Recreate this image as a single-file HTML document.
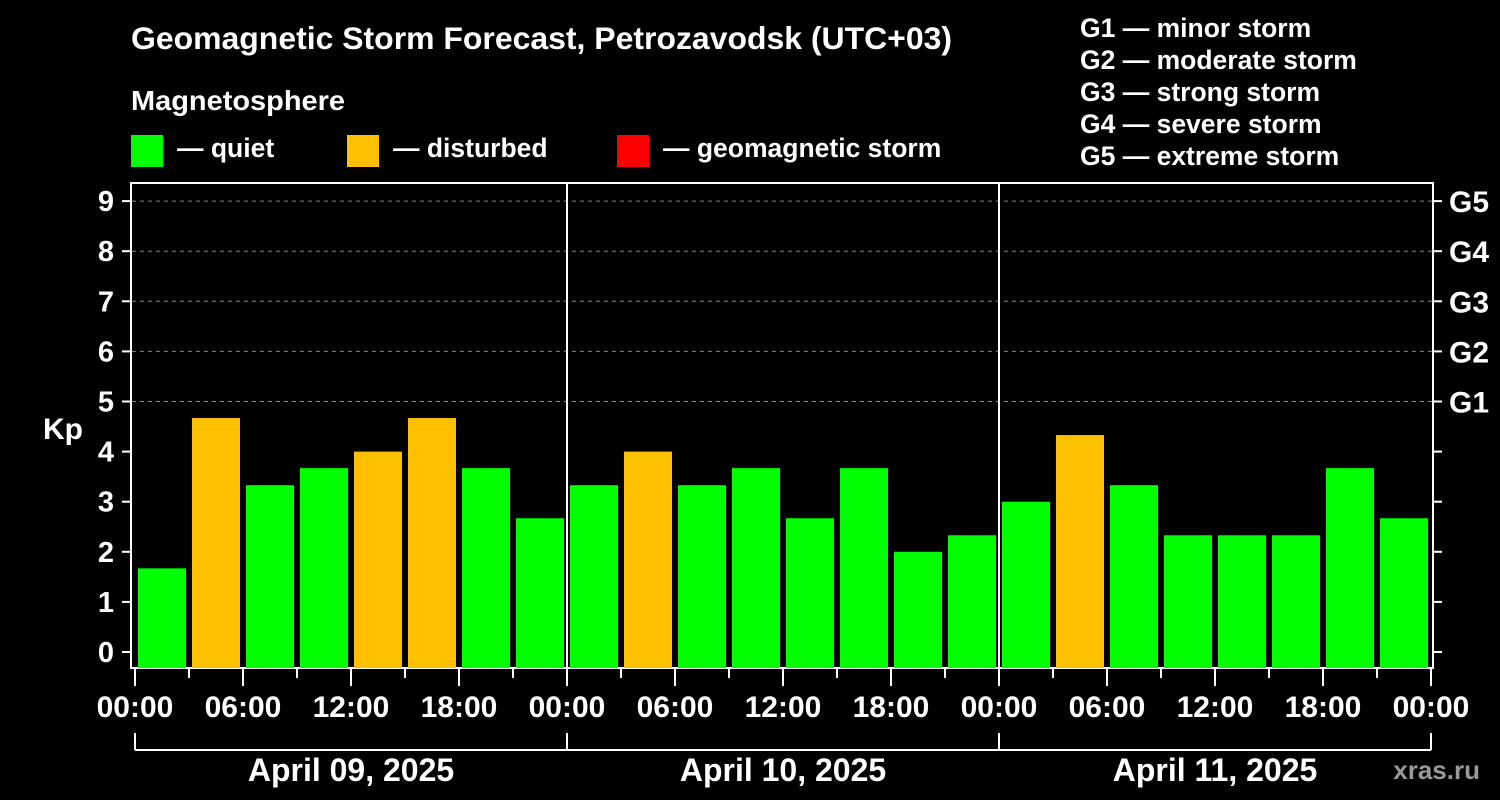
<!DOCTYPE html>
<html><head><meta charset="utf-8"><style>
body{margin:0;background:#000;width:1500px;height:800px;overflow:hidden}
svg{display:block;font-family:"Liberation Sans",Arial,sans-serif;font-weight:bold}
</style></head><body>
<svg id="c" width="1500" height="800">
<rect x="0" y="0" width="1500" height="800" fill="#000"/>
<text x="131" y="49" font-size="31.5" fill="#fff" textLength="821" lengthAdjust="spacingAndGlyphs">Geomagnetic Storm Forecast, Petrozavodsk (UTC+03)</text>
<text x="131" y="110" font-size="28" fill="#fff" textLength="214" lengthAdjust="spacingAndGlyphs">Magnetosphere</text>
<g><rect x="131" y="135" width="32" height="32" fill="#00ff00"/><text x="177" y="157" font-size="26.5" fill="#fff">— quiet</text></g>
<g><rect x="347" y="135" width="32" height="32" fill="#ffc000"/><text x="393" y="157" font-size="26.5" fill="#fff">— disturbed</text></g>
<g><rect x="617" y="135" width="32" height="32" fill="#ff0000"/><text x="663" y="157" font-size="26.5" fill="#fff">— geomagnetic storm</text></g>
<g font-size="26.5" fill="#fff">
<text x="1080" y="37">G1 — minor storm</text>
<text x="1080" y="69">G2 — moderate storm</text>
<text x="1080" y="101">G3 — strong storm</text>
<text x="1080" y="133">G4 — severe storm</text>
<text x="1080" y="165">G5 — extreme storm</text>
</g>
<rect x="131" y="183" width="1302" height="485" fill="#000" stroke="#fff" stroke-width="2"/>
<g id="grid"></g><g id="bars"></g><g id="axes"></g>
<text x="63" y="439" font-size="30" fill="#fff" text-anchor="middle">Kp</text>
<text x="1480" y="779" font-size="26" fill="#999" text-anchor="end">xras.ru</text>
</svg>
<script>
const days = ["April 09, 2025","April 10, 2025","April 11, 2025"];
const kpValues = [1.67,4.67,3.33,3.67,4.0,4.67,3.67,2.67, 3.33,4.0,3.33,3.67,2.67,3.67,2.0,2.33, 3.0,4.33,3.33,2.33,2.33,2.33,3.67,2.67];
const hourLabels = ["00:00","06:00","12:00","18:00"];
const yTicks = [0,1,2,3,4,5,6,7,8,9];
const gLabels = ["G1","G2","G3","G4","G5"];
const NS="http://www.w3.org/2000/svg";
const x0=135, slot=54, y0=652, unit=50.1, bottom=668;
const X=i=>x0+i*slot, Y=v=>y0-v*unit;
function mk(p,t,a){const e=document.createElementNS(NS,t);for(const k in a)e.setAttribute(k,a[k]);p.appendChild(e);return e;}
const grid=document.getElementById('grid'),bars=document.getElementById('bars'),ax=document.getElementById('axes');
yTicks.forEach(v=>{
  if(v>=5){const l=mk(grid,'line',{x1:132,x2:1432,y1:Y(v),y2:Y(v),stroke:'#888','stroke-dasharray':'4,4'});
  
  }
  mk(ax,'line',{x1:122,x2:131,y1:Y(v),y2:Y(v),stroke:'#fff','stroke-width':2});
  mk(ax,'line',{x1:1433,x2:1442,y1:Y(v),y2:Y(v),stroke:'#fff','stroke-width':2});
  const t=mk(ax,'text',{x:114,y:Y(v)+10,'font-size':29,fill:'#fff','text-anchor':'end'});t.textContent=v;
  
  
});
gLabels.forEach((g,i)=>{const t=mk(ax,'text',{x:1449,y:Y(i+5)+11,'font-size':30,fill:'#fff'});t.textContent=g;
  
  });
kpValues.forEach((v,i)=>{
  const c=v>=5?'#ff0000':(v>=4?'#ffc000':'#00ff00');
  const r=mk(bars,'rect',{x:X(i)+3,y:Y(v),width:48,height:bottom-Y(v),fill:c});
  
  
});
for(let d=1;d<3;d++) mk(ax,'line',{x1:X(d*8),x2:X(d*8),y1:183,y2:668,stroke:'#fff','stroke-width':2});
for(let i=0;i<=24;i++){
  const major=i%2==0;
  mk(ax,'line',{x1:X(i),x2:X(i),y1:668,y2:major?686:678,stroke:'#fff','stroke-width':2});
  if(major){const t=mk(ax,'text',{x:X(i),y:717,'font-size':30,fill:'#fff','text-anchor':'middle'});t.textContent=hourLabels[(i/2)%4];
  
  }
}
mk(ax,'line',{x1:X(0),x2:X(24),y1:750,y2:750,stroke:'#fff','stroke-width':2});
for(let d=0;d<=3;d++) mk(ax,'line',{x1:X(d*8),x2:X(d*8),y1:733,y2:750,stroke:'#fff','stroke-width':2});
days.forEach((s,d)=>{const t=mk(ax,'text',{x:X(d*8+4),y:781,'font-size':32,fill:'#fff','text-anchor':'middle'});t.textContent=s;
  
  });
</script>
</body></html>
